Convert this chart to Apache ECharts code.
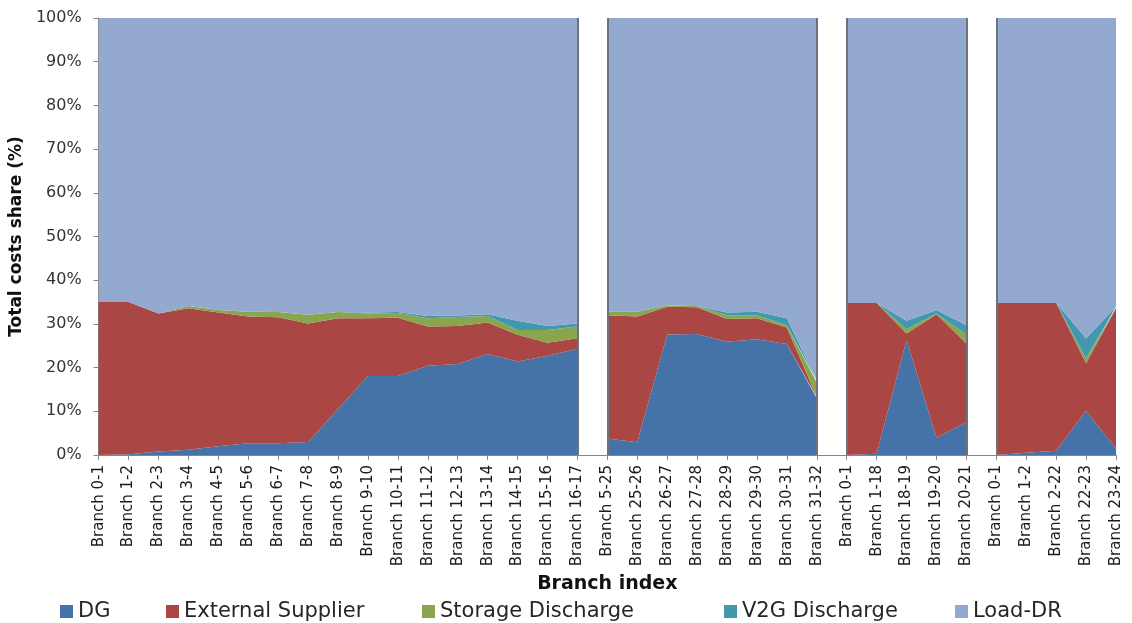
<!DOCTYPE html>
<html>
<head>
<meta charset="utf-8">
<title>Total costs share by branch</title>
<script src="https://cdn.jsdelivr.net/npm/echarts@6/dist/echarts.min.js"></script>
<style>
  html, body { margin: 0; padding: 0; background: #fff; }
  #chart-content { width: 1132px; height: 623px; }
</style>
</head>
<body>
<div id="chart-content"></div>
<script>
// branch labels, four feeders side by side
const categories = [
  'Branch 0-1', 'Branch 1-2', 'Branch 2-3', 'Branch 3-4', 'Branch 4-5', 'Branch 5-6',
  'Branch 6-7', 'Branch 7-8', 'Branch 8-9', 'Branch 9-10', 'Branch 10-11', 'Branch 11-12',
  'Branch 12-13', 'Branch 13-14', 'Branch 14-15', 'Branch 15-16', 'Branch 16-17',
  'Branch 5-25', 'Branch 25-26', 'Branch 26-27', 'Branch 27-28', 'Branch 28-29',
  'Branch 29-30', 'Branch 30-31', 'Branch 31-32',
  'Branch 0-1', 'Branch 1-18', 'Branch 18-19', 'Branch 19-20', 'Branch 20-21',
  'Branch 0-1', 'Branch 1-2', 'Branch 2-22', 'Branch 22-23', 'Branch 23-24'
];
// how many branches each feeder panel has
const panelSizes = [17, 8, 5, 5];

// shares in %
const dg = [
  0, 0.2, 0.8, 1.2, 2.0, 2.7, 2.7, 3.0, 10.5, 18.1, 18.1, 20.4, 20.8, 23.1, 21.4, 22.7, 24.3,
  3.8, 2.9, 27.6, 27.7, 25.9, 26.5, 25.4, 13.0,
  0, 0.3, 26.3, 4.0, 7.5,
  0, 0.5, 1.0, 10.1, 1.5
];
const externalSupplier = [
  35.0, 34.8, 31.6, 32.4, 30.6, 29.0, 28.8, 27.1, 20.8, 13.2, 13.3, 9.0, 8.7, 7.2, 6.1, 3.0, 2.4,
  28.2, 28.8, 6.3, 6.1, 5.2, 4.8, 3.8, 0.3,
  34.8, 34.5, 1.5, 28.2, 18.0,
  34.8, 34.3, 33.8, 10.9, 32.1
];
const storageDischarge = [
  0, 0, 0, 0.5, 0.6, 1.1, 1.2, 2.0, 1.4, 1.1, 1.1, 1.9, 2.1, 1.5, 1.1, 2.9, 2.7,
  0.8, 1.1, 0.3, 0.3, 0.9, 0.7, 0.5, 3.3,
  0, 0, 1.0, 0.2, 2.0,
  0, 0, 0, 1.1, 0.1
];
const v2gDischarge = [
  0, 0, 0, 0, 0, 0, 0, 0, 0, 0.2, 0.2, 0.5, 0.3, 0.4, 2.1, 0.9, 0.7,
  0, 0, 0, 0, 0.6, 0.8, 1.6, 0.4,
  0, 0, 1.9, 0.8, 2.2,
  0, 0, 0, 4.6, 0.2
];
const loadDR = [
  65.0, 65.0, 67.6, 65.9, 66.8, 67.2, 67.3, 67.9, 67.3, 67.4, 67.3, 68.2, 68.1, 67.8, 69.3, 70.5, 69.9,
  67.2, 67.2, 65.8, 65.9, 67.4, 67.2, 68.7, 83.0,
  65.2, 65.2, 69.3, 66.8, 70.3,
  65.2, 65.2, 65.2, 73.3, 66.1
];
const yTicks = [0, 100, 10];

const components = [
  { name: 'DG', values: dg, color: '#4572A7' },
  { name: 'External Supplier', values: externalSupplier, color: '#AA4643' },
  { name: 'Storage Discharge', values: storageDischarge, color: '#89A54E' },
  { name: 'V2G Discharge', values: v2gDischarge, color: '#4198AF' },
  { name: 'Load-DR', values: loadDR, color: '#93A9CF' }
];

const font = 'DejaVu Sans';
const chart = echarts.init(document.getElementById('chart-content'));

// one stack per panel so the gaps between feeders stay empty
let series = [];
let borders = [];
let start = 0;
panelSizes.forEach((size, p) => {
  const end = start + size - 1;
  components.forEach((c) => {
    series.push({
      name: c.name,
      type: 'line',
      stack: 'panel' + p,
      symbol: 'none',
      lineStyle: { width: 0 },
      itemStyle: { color: c.color },
      areaStyle: { color: c.color, opacity: 1 },
      data: c.values.map((v, i) => (i >= start && i <= end ? v : null))
    });
  });
  if (p > 0) borders.push({ xAxis: start });
  if (p < panelSizes.length - 1) borders.push({ xAxis: end });
  start = end + 1;
});

// dark panel edges
series[0].markLine = {
  silent: true,
  symbol: 'none',
  label: { show: false },
  lineStyle: { color: '#6c7280', width: 2, type: 'solid' },
  data: borders
};

const legendLeft = [55, 161, 417, 719, 950];
let legend = components.map((c, i) => ({
  left: legendLeft[i],
  top: 596,
  data: [c.name],
  icon: 'rect',
  itemWidth: 13,
  itemHeight: 13,
  selectedMode: false,
  textStyle: { fontFamily: font, fontSize: 21, color: '#262626' }
}));

let option = {
  animation: false,
  textStyle: { fontFamily: font },
  legend: legend,
  grid: { left: 98, right: 16, top: 18, bottom: 168 },
  xAxis: {
    type: 'category',
    data: categories,
    boundaryGap: false,
    name: 'Branch index',
    nameLocation: 'middle',
    nameGap: 114,
    nameTextStyle: { fontFamily: font, fontSize: 19, fontWeight: 'bold', color: '#111' },
    axisLine: { lineStyle: { color: '#868686', width: 1 } },
    axisTick: { alignWithLabel: true, length: 5, interval: 0, lineStyle: { color: '#868686' } },
    axisLabel: { interval: 0, rotate: 90, margin: 10, fontFamily: font, fontSize: 15, color: '#1a1a1a' },
    splitLine: { show: false }
  },
  yAxis: {
    type: 'value',
    min: yTicks[0],
    max: yTicks[1],
    interval: yTicks[2],
    name: 'Total costs share (%)',
    nameLocation: 'middle',
    nameGap: 63,
    nameTextStyle: { fontFamily: font, fontSize: 17, fontWeight: 'bold', color: '#111' },
    axisLine: { show: true, lineStyle: { color: '#868686', width: 1 } },
    axisTick: { show: true, length: 5, lineStyle: { color: '#868686' } },
    axisLabel: { formatter: '{value}%', margin: 17, fontFamily: font, fontSize: 16, color: '#333' },
    splitLine: { show: false }
  },
  series: series
};
chart.setOption(option);
</script>
</body>
</html>
